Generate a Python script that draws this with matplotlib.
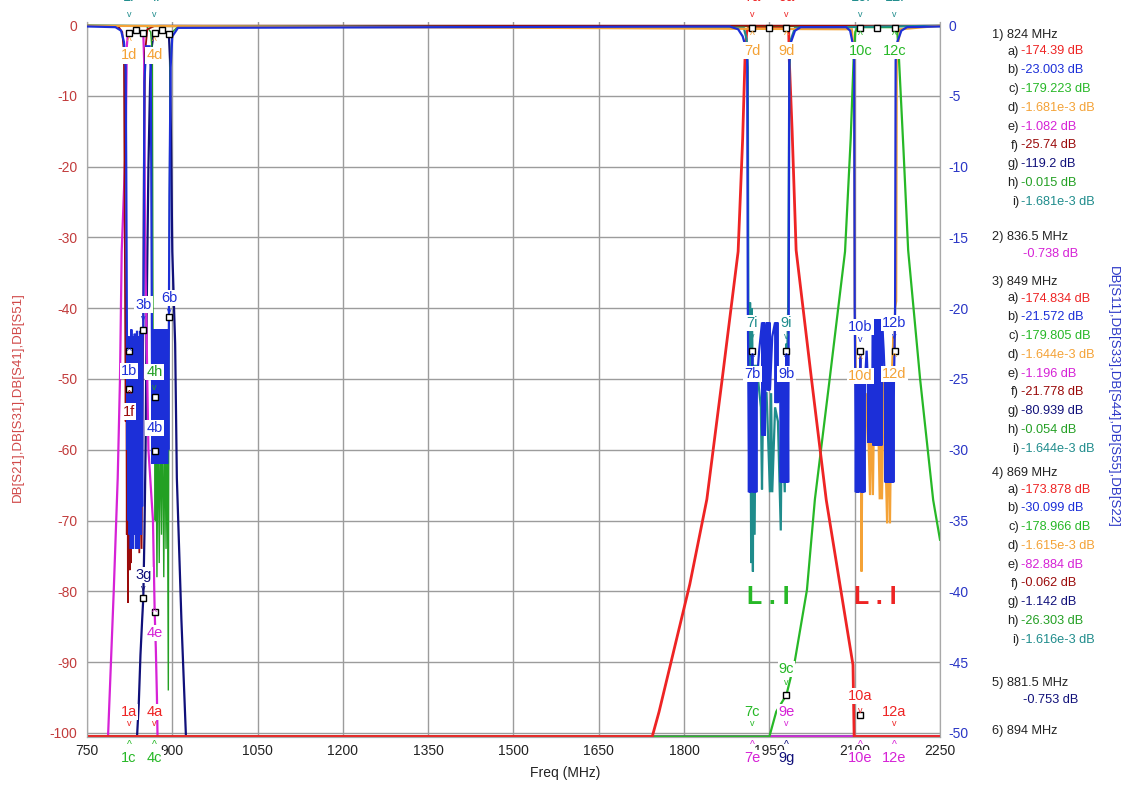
import matplotlib
matplotlib.use('Agg')
import matplotlib.pyplot as plt

plt.rcParams['font.family'] = ['Liberation Sans', 'DejaVu Sans']
plt.rcParams['axes.unicode_minus'] = False

# ---------------- colours ----------------
C_RED = '#ee2424'
C_BLUE = '#1c2fd8'
C_GREEN = '#27b827'
C_ORANGE = '#f4a236'
C_MAG = '#d622d6'
C_DRED = '#9a0a0a'
C_NAVY = '#10107a'
C_GREENH = '#23a023'
C_TEAL = '#1f8c8c'

# ---------------- data: left axis traces (dB) ----------------
red_pts = [(750, -100.5), (1744, -100.5), (1756, -97), (1780, -89), (1810, -79), (1840, -67),
           (1867, -50), (1895, -32), (1903, -16), (1907, -5), (1910, -1), (1914, -0.3),
           (1982, -0.3), (1984, -1), (1985, -5), (1990, -15), (1997, -31.8), (2024, -50),
           (2050, -67.1), (2080, -82), (2097, -90.4), (2099, -100.5), (2250, -100.5)]

green_pts = [(750, -100.5), (1950, -100.5), (1962, -97), (1980, -94.6), (1995, -89.7),
             (2016, -79.8), (2030, -67), (2056, -50), (2083, -32), (2093, -16), (2098, -5),
             (2101, -1), (2105, -0.3), (2172, -0.3), (2175, -1), (2178, -5), (2186, -18),
             (2194, -31.8), (2215, -50), (2238, -67.1), (2250, -72.7)]

magenta_pts = [(750, -100.5), (787, -100.5), (797, -80), (804, -64), (808, -50), (811, -32),
               (818, -17), (820, -3), (822, -1.1), (824, -1.082), (836.5, -0.738), (849, -1.196),
               (850.5, -5), (852, -30), (855, -45), (858, -60), (866, -70), (869, -82.884),
               (871, -88), (873, -95), (874, -100.5), (2250, -100.5)]

navy_pts = [(750, -100.5), (838, -100.5), (841, -96), (844, -89), (847, -84), (849, -80.939),
            (851, -72), (853, -60), (855, -40), (858, -20), (861, -8), (864, -3), (867, -1.3),
            (869, -1.142), (881.5, -0.753), (894, -1.3), (896, -5), (898, -18), (900, -32),
            (905, -45), (908, -64), (916, -84), (924, -100.5), (2250, -100.5)]

# ---------------- data: right axis traces (dB) ----------------
blue_pts = [(750, -0.1), (800, -0.15), (810, -0.4), (815, -1.2), (818, -3), (819, -10), (820, -21),
            (821, -30), (822, -22), (823, -35), (824, -23.003), (825, -36), (826, -22), (827, -37),
            (828, -21.5), (829, -35), (830, -22), (831, -37), (832, -22.5), (833, -36), (834, -21.8),
            (835, -35), (836, -22), (837, -37), (838, -21.6), (839, -36), (840, -22), (841, -37),
            (842, -22), (843, -35), (844, -21.6), (845, -36), (846, -22), (847, -34), (848, -22),
            (849, -21.572), (850, -12), (851, -4), (854, -1.5), (860, -1.5), (862, -3), (863, -10),
            (864, -21.5), (865, -31), (866, -22), (867, -31), (868, -21.5), (869, -30.099),
            (870, -21.5), (871, -31), (872, -22), (873, -31), (874, -21.5), (875, -30), (876, -22),
            (877, -31), (878, -21.5), (879, -31), (880, -22), (881, -30), (882, -21.5), (883, -31),
            (884, -22), (885, -31), (886, -21.5), (887, -30), (888, -22), (889, -31), (890, -21.5),
            (891, -31), (892, -22), (893, -30), (894, -20.6), (895, -12), (897, -3), (900, -0.8),
            (910, -0.2), (1880, -0.1), (1895, -0.3), (1903, -0.8), (1908, -1.5), (1911, -2.5),
            (1912, -19.6), (1913, -25.2), (1914, -33), (1915, -25.2), (1916, -33), (1917, -25.2),
            (1918, -33), (1919, -25.2), (1920, -23), (1921, -33), (1922, -25.2), (1923, -33),
            (1924, -25.2), (1925, -33), (1926, -25.2), (1927, -33), (1928, -25.2), (1932, -23),
            (1937, -21), (1938, -29), (1939, -21), (1940, -29), (1941, -21), (1942, -29),
            (1944, -22), (1946, -21), (1947, -25.8), (1948, -21), (1949, -25.8), (1950, -21),
            (1951, -25.8), (1955, -22), (1960, -21), (1961, -26.7), (1962, -21), (1963, -26.7),
            (1964, -21), (1965, -26.7), (1969, -25.2), (1970, -32.3), (1971, -25.2), (1972, -32.3),
            (1973, -25.2), (1974, -32.3), (1975, -25.2), (1976, -32.3), (1977, -25.2), (1978, -32.3),
            (1979, -25.2), (1980, -23), (1981, -32.3), (1982, -25.2), (1983, -32.3), (1984, -20),
            (1985, -2.5), (1988, -1.2), (1995, -0.4), (2005, -0.15), (2085, -0.15), (2092, -0.4),
            (2096, -1.2), (2099, -2.5), (2100, -20.1), (2101, -25.2), (2102, -33), (2103, -25.2),
            (2104, -33), (2105, -25.2), (2106, -33), (2107, -25.2), (2108, -33), (2109, -25.2),
            (2110, -23), (2111, -33), (2112, -25.2), (2113, -33), (2114, -25.2), (2115, -33),
            (2116, -25.2), (2117, -33), (2118, -25.2), (2121, -23), (2123, -25.2), (2124, -29.5),
            (2125, -25.2), (2126, -29.5), (2127, -25.2), (2128, -29.5), (2129, -25.2), (2130, -29.5),
            (2131, -25.2), (2132, -20.8), (2133, -29.7), (2134, -20.8), (2135, -29.7), (2136, -20.8),
            (2137, -29.7), (2138, -20.8), (2139, -29.7), (2140, -20.8), (2141, -29.7), (2142, -20.8),
            (2143, -29.7), (2144, -20.8), (2145, -29.7), (2146, -20.8), (2147, -29.7), (2148, -20.8),
            (2151, -23), (2153, -25.2), (2154, -32.3), (2155, -25.2), (2156, -32.3), (2157, -25.2),
            (2158, -32.3), (2159, -25.2), (2160, -32.3), (2161, -25.2), (2162, -32.3), (2163, -25.2),
            (2164, -32.3), (2165, -25.2), (2166, -32.3), (2167, -25.2), (2168, -32.3), (2169, -25.2),
            (2170, -23), (2171, -20.1), (2172, -2.5), (2175, -1.2), (2182, -0.4), (2192, -0.15),
            (2250, -0.1)]

teal_pts = [(750, -0.05), (1905, -0.2), (1910, -1), (1912, -3), (1913, -19.6), (1915, -30),
            (1916, -19.6), (1918, -38), (1919, -20), (1920, -22.5), (1921, -38.6), (1922, -24),
            (1924, -36), (1926, -24), (1930, -25), (1935, -27), (1937, -32.8), (1939, -26),
            (1945, -26), (1951, -33), (1953, -26), (1955, -33), (1960, -27), (1965, -28),
            (1970, -35.7), (1972, -27), (1977, -33), (1979, -25), (1980, -22.5), (1981, -24),
            (1983, -20), (1985, -3), (1988, -1), (1995, -0.2), (2250, -0.05)]

orange_pts = [(750, -0.05), (2095, -0.3), (2099, -2), (2100, -19.5), (2102, -25), (2104, -33),
              (2106, -25), (2108, -30), (2110, -23), (2112, -38.6), (2114, -26), (2118, -30),
              (2122, -26), (2127, -33.2), (2129, -25), (2132, -33.2), (2135, -24), (2140, -25),
              (2144, -33.5), (2146, -25), (2148, -33.5), (2151, -25), (2157, -35.2), (2159, -26),
              (2162, -35.2), (2165, -25), (2168, -22), (2170, -23), (2171, -20), (2173, -19.5),
              (2174, -2), (2180, -0.3), (2250, -0.05)]

darkred_pts = [(750, -0.05), (805, -0.1), (812, -0.5), (815, -2), (817, -19.4), (818, -28),
               (819, -21), (820, -36), (821, -22), (822, -40.8), (823, -24), (824, -25.74),
               (825, -38.5), (826, -26), (827, -38), (828, -27), (830, -34), (832, -27), (834, -33),
               (836, -28), (838, -33), (840, -27), (842, -37.3), (844, -27), (846, -37), (848, -25),
               (849, -21.778), (850, -10), (852, -2), (856, -0.3), (869, -0.062), (880, -0.05),
               (2250, -0.05)]

greenh_pts = [(750, -0.015), (849, -0.054), (855, -0.1), (862, -0.5), (865, -2), (866, -20),
              (867, -30), (868, -22), (869, -26.303), (870, -35), (871, -26), (873, -39), (875, -27),
              (877, -38), (879, -28), (881, -36), (883, -27), (885, -39), (887, -28), (889, -37),
              (891, -27), (893, -47), (894, -22), (896, -3), (900, -0.5), (910, -0.1), (2250, -0.1)]

# marker squares (freq, dB)
mk_left = [(824, -1.082), (836.5, -0.738), (849, -1.196), (869, -1.142), (881.5, -0.753), (894, -1.3),
           (1920, -0.4), (1950, -0.4), (1980, -0.4), (2110, -0.4), (2140, -0.4), (2170, -0.4),
           (849, -80.939), (869, -82.884), (1980, -94.6), (2110, -97.5)]
mk_right = [(824, -23.003), (824, -25.74), (849, -21.572), (869, -30.099), (869, -26.303), (894, -20.6),
            (1920, -23), (1980, -23), (2110, -23), (2170, -23)]

# marker labels: (text, freq, label_dB, arrow_dB, arrow, colour)
labels = [
    ("1i", 824, 3.9, 1.5, 'v', C_TEAL), ("4i", 869, 3.9, 1.5, 'v', C_TEAL),
    ("7a", 1920, 3.9, 1.5, 'v', C_RED), ("9a", 1980, 3.9, 1.5, 'v', C_RED),
    ("10i", 2110, 3.9, 1.5, 'v', C_TEAL), ("12i", 2170, 3.9, 1.5, 'v', C_TEAL),
    ("1d", 824, -4.3, -2.4, '^', C_ORANGE), ("4d", 869, -4.3, -2.4, '^', C_ORANGE),
    ("7d", 1920, -3.6, -1.6, '^', C_ORANGE), ("9d", 1980, -3.6, -1.6, '^', C_ORANGE),
    ("10c", 2110, -3.6, -1.6, '^', C_GREEN), ("12c", 2170, -3.6, -1.6, '^', C_GREEN),
    ("3b", 849, -39.5, -41.5, 'v', C_BLUE), ("6b", 894, -38.6, -40.5, 'v', C_BLUE),
    ("1b", 824, -48.9, -46.2, '^', C_BLUE), ("1f", 824, -54.6, -52.3, '^', C_DRED),
    ("4h", 869, -49.0, -51.2, 'v', C_GREENH), ("4b", 869, -56.9, -58.9, 'v', C_BLUE),
    ("3g", 849, -77.7, -79.6, 'v', C_NAVY), ("4e", 869, -85.9, -83.0, '^', C_MAG),
    ("1a", 824, -97.0, -98.7, 'v', C_RED), ("4a", 869, -97.0, -98.7, 'v', C_RED),
    ("1c", 824, -103.6, -101.7, '^', C_GREEN), ("4c", 869, -103.6, -101.7, '^', C_GREEN),
    ("7i", 1920, -42.1, -44.0, 'v', C_TEAL), ("7b", 1920, -49.3, -47.0, '^', C_BLUE),
    ("9i", 1980, -42.1, -44.0, 'v', C_TEAL), ("9b", 1980, -49.3, -47.0, '^', C_BLUE),
    ("10b", 2110, -42.7, -44.4, 'v', C_BLUE), ("12b", 2170, -42.1, -44.0, 'v', C_BLUE),
    ("10d", 2110, -49.6, -47.3, '^', C_ORANGE), ("12d", 2170, -49.3, -47.0, '^', C_ORANGE),
    ("9c", 1980, -91.0, -92.9, 'v', C_GREEN), ("7c", 1920, -97.0, -98.7, 'v', C_GREEN),
    ("9e", 1980, -97.0, -98.7, 'v', C_MAG), ("10a", 2110, -94.8, -96.8, 'v', C_RED),
    ("12a", 2170, -97.0, -98.7, 'v', C_RED),
    ("7e", 1920, -103.6, -101.7, '^', C_MAG), ("9g", 1980, -103.6, -101.7, '^', C_NAVY),
    ("10e", 2110, -103.6, -101.7, '^', C_MAG), ("12e", 2170, -103.6, -101.7, '^', C_MAG),
]

# readout panel
trace_letters = ['a', 'b', 'c', 'd', 'e', 'f', 'g', 'h', 'i']
trace_colors = [C_RED, C_BLUE, C_GREEN, C_ORANGE, C_MAG, C_DRED, C_NAVY, C_GREENH, C_TEAL]
mk1_vals = ["-174.39", "-23.003", "-179.223", "-1.681e-3", "-1.082", "-25.74", "-119.2", "-0.015", "-1.681e-3"]
mk3_vals = ["-174.834", "-21.572", "-179.805", "-1.644e-3", "-1.196", "-21.778", "-80.939", "-0.054", "-1.644e-3"]
mk4_vals = ["-173.878", "-30.099", "-178.966", "-1.615e-3", "-82.884", "-0.062", "-1.142", "-26.303", "-1.616e-3"]
mk2_val = "-0.738"
mk5_val = "-0.753"
headers = ["1) 824 MHz", "2) 836.5 MHz", "3) 849 MHz", "4) 869 MHz", "5) 881.5 MHz", "6) 894 MHz"]

x_ticks = [750, 900, 1050, 1200, 1350, 1500, 1650, 1800, 1950, 2100, 2250]
yl_ticks = [0, -10, -20, -30, -40, -50, -60, -70, -80, -90, -100]
yr_ticks = [0, -5, -10, -15, -20, -25, -30, -35, -40, -45, -50]

# ---------------- figure ----------------
W, H = 1129, 787
fig = plt.figure(figsize=(W / 100, H / 100), dpi=100)
ax = fig.add_axes([87 / W, 1 - 737.2 / H, 853 / W, (737.2 - 22.2) / H])
ax2 = ax.twinx()
ax.set_xlim(750, 2250)
ax.set_ylim(-100.6, 0.4)
ax2.set_ylim(-50.3, 0.2)

ax.set_xticks(x_ticks)
ax.set_yticks(yl_ticks)
ax2.set_yticks(yr_ticks)
ax.set_xticklabels([str(t) for t in x_ticks])
ax.grid(True, color='#9c9c9c', lw=1.0)
ax.set_axisbelow(True)
ax.tick_params(axis='x', length=0, pad=5, labelsize=10, labelcolor='#222222')
ax.tick_params(axis='y', length=0, pad=7, labelsize=10, labelcolor='#c23b3b')
ax2.tick_params(axis='y', length=0, pad=6, labelsize=10, labelcolor='#2a36c6')
for a in (ax, ax2):
    for s in a.spines.values():
        s.set_color('#a8a8a8')
    a.spines['top'].set_visible(False)

def plot_pts(a, pts, color, lw=1.6, z=2):
    xs = [p[0] for p in pts]
    ys = [p[1] for p in pts]
    a.plot(xs, ys, color=color, lw=lw, zorder=z, solid_joinstyle='miter')

# left axis traces
plot_pts(ax, navy_pts, C_NAVY, z=2)
plot_pts(ax, magenta_pts, C_MAG, z=3)
plot_pts(ax, green_pts, C_GREEN, z=4)
plot_pts(ax, red_pts, C_RED, lw=2.0, z=5)
# right axis traces
plot_pts(ax2, greenh_pts, C_GREENH, lw=1.0, z=2)
plot_pts(ax2, darkred_pts, C_DRED, lw=1.3, z=3)
plot_pts(ax2, teal_pts, C_TEAL, z=4)
plot_pts(ax2, orange_pts, C_ORANGE, z=5)
plot_pts(ax2, blue_pts, C_BLUE, z=6)

# marker squares
ax2.plot([p[0] for p in mk_right], [p[1] for p in mk_right], ls='none', marker='s', ms=4.5,
         mfc='white', mec='black', mew=1.0, zorder=8)
ax2.plot([p[0] for p in mk_left], [p[1] for p in mk_left], ls='none', marker='s', ms=4.5,
         mfc='white', mec='black', mew=1.0, zorder=8, transform=ax.transData)

# marker labels
for txt, f, ly, ay, arr, col in labels:
    ax2.text(f, ly, txt, transform=ax.transData, ha='center', va='center', fontsize=10.5,
             color=col, zorder=10, clip_on=False,
             bbox=dict(facecolor='white', edgecolor='none', pad=0.8))
    ax2.text(f, ay, arr, transform=ax.transData, ha='center', va='center',
             fontsize=6.5 if arr == 'v' else 7.5, color=col, zorder=10, clip_on=False)

# limit-line symbols
ax2.text(1948, -80.8, "L . I", transform=ax.transData, ha='center', va='center', fontsize=18,
         fontweight='bold', color=C_GREEN, zorder=9)
ax2.text(2137, -80.8, "L . I", transform=ax.transData, ha='center', va='center', fontsize=18,
         fontweight='bold', color=C_RED, zorder=9)

# axis labels
fig.text(565 / W, 1 - 773 / H, "Freq (MHz)", ha='center', va='center', fontsize=10, color='#222222')
fig.text(18 / W, 1 - 397 / H, "DB[S21],DB[S31],DB[S41],DB[S51]", rotation=90, ha='center',
         va='center', fontsize=9.5, color='#d04848')
fig.text(1113 / W, 1 - 397 / H, "DB[S11],DB[S33],DB[S44],DB[S55],DB[S22]", rotation=-90,
         ha='center', va='center', fontsize=9.5, color='#2a36c6')

# readout panel
FS = 9.2
def ftxt(x, y, s, color='#222222', ha='left'):
    fig.text(x / W, 1 - y / H, s, ha=ha, va='center', fontsize=FS, color=color)

def block(y0, vals):
    for k, (lt, v, c) in enumerate(zip(trace_letters, vals, trace_colors)):
        yy = y0 + 16.5 + k * 18.8
        ftxt(1019, yy, lt + ")", ha='right')
        ftxt(1021, yy, v + " dB", color=c)

ftxt(992, 35, headers[0])
block(35, mk1_vals)
ftxt(992, 237, headers[1])
ftxt(1023, 254, mk2_val + " dB", color=C_MAG)
ftxt(992, 282, headers[2])
block(282, mk3_vals)
ftxt(992, 473, headers[3])
block(473, mk4_vals)
ftxt(992, 683, headers[4])
ftxt(1023, 700, mk5_val + " dB", color=C_NAVY)
ftxt(992, 731, headers[5])

fig.savefig("out.png", dpi=100)
